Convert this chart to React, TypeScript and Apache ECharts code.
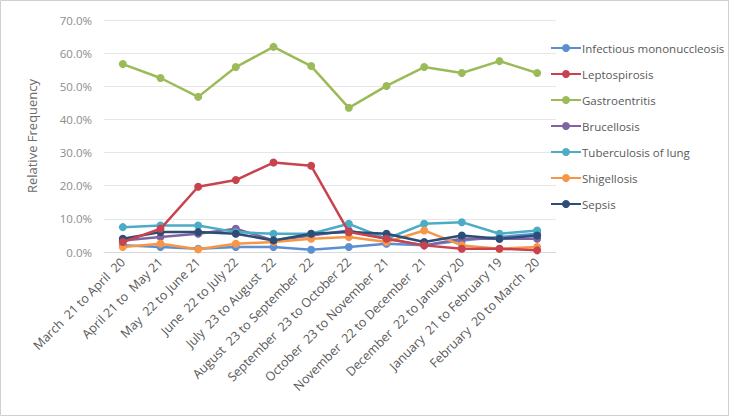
import React, { useEffect, useRef } from "react";
import * as echarts from "echarts";

const categories = [
  "March  21 to April  20",
  "April 21 to  May 21",
  "May  22 to June 21",
  "June  22 to July 22",
  "July  23 to August  22",
  "August  23 to September  22",
  "September  23 to October 22",
  "October  23 to November  21",
  "November  22 to December  21",
  "December  22 to January 20",
  "January  21 to February 19",
  "February  20 to March  20",
];

const infectiousMono = [2.0, 1.5, 1.0, 1.5, 1.5, 0.7, 1.5, 2.5, 2.0, 3.5, 4.5, 5.5];
const leptospirosis = [3.0, 7.0, 19.7, 21.7, 27.0, 26.0, 6.0, 4.0, 2.0, 1.0, 1.0, 0.5];
const gastroentritis = [56.7, 52.5, 46.8, 55.8, 61.9, 56.1, 43.5, 50.1, 55.8, 54.0, 57.6, 54.0];
const brucellosis = [3.5, 4.5, 5.5, 7.0, 3.5, 5.0, 6.5, 4.0, 2.0, 4.0, 4.0, 4.0];
const tuberculosis = [7.5, 8.0, 8.0, 6.0, 5.5, 5.5, 8.5, 4.0, 8.5, 9.0, 5.5, 6.5];
const shigellosis = [1.5, 2.5, 0.8, 2.5, 3.0, 4.0, 4.5, 3.0, 6.5, 2.0, 1.0, 1.5];
const sepsis = [4.0, 6.0, 6.0, 5.5, 3.5, 5.5, 6.0, 5.5, 3.0, 5.0, 4.0, 5.0];

const seriesNames = [
  "Infectious mononuccleosis",
  "Leptospirosis",
  "Gastroentritis",
  "Brucellosis",
  "Tuberculosis of lung",
  "Shigellosis",
  "Sepsis",
];
const seriesData = [infectiousMono, leptospirosis, gastroentritis, brucellosis, tuberculosis, shigellosis, sepsis];
const colors = ["#5B8FD0", "#C9434F", "#9BBB59", "#8064A2", "#4BACC6", "#F79646", "#2C4D75"];

export default function App() {
  const ref = useRef<HTMLDivElement>(null);
  useEffect(() => {
    document.body.style.margin = "0";
    const chart = echarts.init(ref.current!, null, { renderer: "svg" });
    chart.setOption({
      animation: false,
      backgroundColor: "#ffffff",
      color: colors,
      textStyle: { fontFamily: "Open Sans, Noto Sans, sans-serif" },
      graphic: [
        {
          type: "rect",
          shape: { x: 0.5, y: 0.5, width: 728, height: 415 },
          style: { fill: "none", stroke: "#d0d0d0", lineWidth: 1 },
          silent: true,
        },
      ],
      grid: { left: 104, right: 173, top: 20, bottom: 164 },
      legend: {
        orient: "vertical",
        left: 545,
        top: 37,
        itemWidth: 30,
        itemHeight: 10,
        itemGap: 14,
        data: seriesNames,
        textStyle: { fontSize: 11.5, color: "#595959", padding: [0, 0, 0, -4] },
      },
      xAxis: {
        type: "category",
        data: categories,
        boundaryGap: true,
        axisLine: { lineStyle: { color: "#d9d9d9" } },
        axisTick: { show: false },
        axisLabel: {
          rotate: 45,
          fontSize: 12.5,
          color: "#595959",
          margin: 8,
          interval: 0,
        },
      },
      yAxis: {
        type: "value",
        min: 0,
        max: 70,
        interval: 10,
        name: "Relative Frequency",
        nameLocation: "middle",
        nameGap: 66,
        nameTextStyle: { fontSize: 13, color: "#6b6b6b" },
        axisLine: { show: false },
        axisTick: { show: false },
        axisLabel: {
          fontSize: 11.5,
          color: "#8c8c8c",
          margin: 12,
          formatter: (v: number) => v.toFixed(1) + "%",
        },
        splitLine: { lineStyle: { color: "#e6e6e6" } },
      },
      series: seriesNames.map((name, i) => ({
        name,
        type: "line",
        data: seriesData[i],
        symbol: "circle",
        symbolSize: 8,
        lineStyle: { width: 2.5 },
        z: i === 1 || i === 2 ? 3 : 2,
      })),
    });
    return () => chart.dispose();
  }, []);
  return <div ref={ref} style={{ width: 729, height: 416 }} />;
}
